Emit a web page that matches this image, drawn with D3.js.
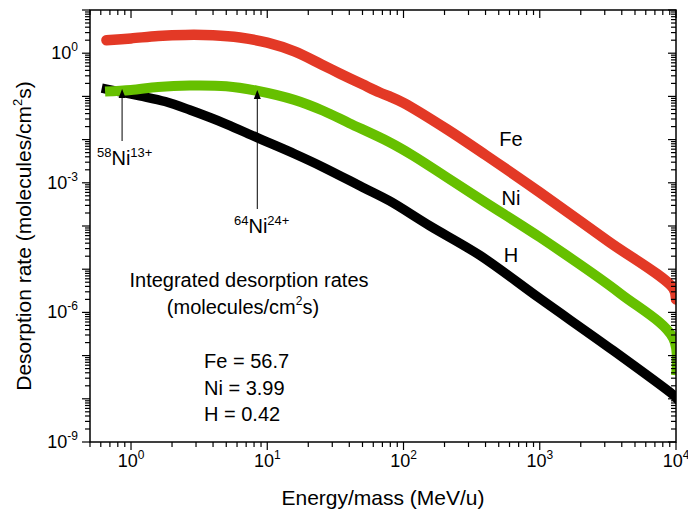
<!DOCTYPE html>
<style>
body { margin: 0; background: #fff; }
svg { font-family: "Liberation Sans", Arial, sans-serif; }
</style>
<svg width="688" height="513"></svg>
<script src="https://cdn.jsdelivr.net/npm/d3@7"></script>
<script>

// values: energy/mass (MeV/u) and desorption rate
var feEnergy = [0.66, 1, 1.58, 2.5, 4, 6.3, 10, 15.8, 25, 34, 50, 67, 79, 100, 207, 400, 1000, 3160, 9550, 10000];
var feRate   = [2.0, 2.2, 2.5, 2.65, 2.6, 2.3, 1.75, 1.1, 0.55, 0.34, 0.19, 0.123, 0.1, 0.071, 0.0176, 4.4e-3, 6.0e-4, 4.5e-5, 3.6e-6, 2.0e-6];

var niEnergy = [0.645, 1, 1.58, 2.7, 5, 8.4, 15.8, 25.7, 40, 79, 117, 200, 400, 1000, 3890, 9550, 10000];
var niRate   = [0.130, 0.141, 0.166, 0.179, 0.172, 0.135, 0.083, 0.0465, 0.024, 8.7e-3, 4.3e-3, 1.45e-3, 3.5e-4, 5.5e-5, 2.75e-6, 2.5e-7, 3.5e-8];

var hEnergy = [0.66, 1.16, 1.78, 2.71, 5, 8.36, 15.8, 25.7, 50, 79, 155, 363, 1000, 3470, 9550, 10000];
var hRate   = [0.148, 0.103, 0.076, 0.0483, 0.0229, 0.0112, 4.7e-3, 2.3e-3, 7.9e-4, 3.8e-4, 1.02e-4, 2.1e-5, 2.1e-6, 1.3e-7, 1.23e-8, 1.07e-8];

var xLabelExp = [0, 1, 2, 3, 4];
var yLabelExp = [0, -3, -6, -9];

var svg = d3.select("svg"),
    pLeft = 90, pRight = 676, pTop = 10, pBottom = 442;

var x = d3.scaleLog().domain([0.5, 1e4]).range([pLeft, pRight]),
    y = d3.scaleLog().domain([1e-9, 10]).range([pBottom, pTop]);

function zip(es, rs) { return es.map(function(e, i) { return [e, rs[i]]; }); }

svg.append("clipPath").attr("id", "plot")
  .append("rect").attr("x", pLeft).attr("y", pTop)
  .attr("width", pRight - pLeft).attr("height", pBottom - pTop);

var line = d3.line()
    .x(function(d) { return x(d[0]); })
    .y(function(d) { return y(d[1]); })
    .curve(d3.curveCatmullRom.alpha(0.5));

var series = [
  {data: zip(hEnergy, hRate), color: "#000000", width: 9.5, cap: "square"},
  {data: zip(niEnergy, niRate), color: "#66c000", width: 10, cap: "butt"},
  {data: zip(feEnergy, feRate), color: "#e33926", width: 10.5, cap: "round"}
];

svg.append("g").attr("clip-path", "url(#plot)")
  .selectAll("path").data(series).enter().append("path")
    .attr("d", function(d) { return line(d.data); })
    .attr("fill", "none")
    .attr("stroke", function(d) { return d.color; })
    .attr("stroke-width", function(d) { return d.width; })
    .attr("stroke-linecap", function(d) { return d.cap; })
    .attr("stroke-linejoin", "round");

// log ticks, 1..9 per decade
function logTicks(scale) {
  var dom = scale.domain(), out = [];
  for (var p = Math.floor(Math.log10(dom[0])); p <= Math.ceil(Math.log10(dom[1])); p++) {
    for (var k = 1; k < 10; k++) {
      var v = k * Math.pow(10, p);
      if (v >= dom[0] * 0.999 && v <= dom[1] * 1.001) out.push({v: v, major: k == 1});
    }
  }
  return out;
}

var ticks = svg.append("g").attr("stroke", "#000").attr("stroke-width", 1.2);
logTicks(x).forEach(function(t) {
  var len = t.major ? 8 : 5, px = x(t.v);
  ticks.append("line").attr("x1", px).attr("x2", px).attr("y1", pBottom).attr("y2", pBottom + len);
  ticks.append("line").attr("x1", px).attr("x2", px).attr("y1", pTop).attr("y2", pTop + len);
});
logTicks(y).forEach(function(t) {
  var len = t.major ? 8 : 5, py = y(t.v);
  ticks.append("line").attr("x1", pLeft).attr("x2", pLeft - len).attr("y1", py).attr("y2", py);
  ticks.append("line").attr("x1", pRight).attr("x2", pRight - len).attr("y1", py).attr("y2", py);
});

svg.append("rect").attr("x", pLeft).attr("y", pTop)
  .attr("width", pRight - pLeft).attr("height", pBottom - pTop)
  .attr("fill", "none").attr("stroke", "#000").attr("stroke-width", 1.5);

function power(sel, exp) {
  sel.append("tspan").text("10");
  sel.append("tspan").attr("font-size", 12).attr("dy", -8).text(exp);
}

svg.append("g").selectAll("text").data(xLabelExp).enter().append("text")
  .attr("x", function(d) { return x(Math.pow(10, d)); })
  .attr("y", 467).attr("font-size", 18).attr("text-anchor", "middle")
  .each(function(d) { power(d3.select(this), d); });

svg.append("g").selectAll("text").data(yLabelExp).enter().append("text")
  .attr("x", 78)
  .attr("y", function(d) { return y(Math.pow(10, d)) + 6; })
  .attr("font-size", 18).attr("text-anchor", "end")
  .each(function(d) { power(d3.select(this), d); });

// axis titles
svg.append("text").attr("x", 383).attr("y", 505).attr("font-size", 21)
  .attr("text-anchor", "middle").text("Energy/mass (MeV/u)");

var yt = svg.append("text").attr("transform", "translate(31,236) rotate(-90)")
  .attr("font-size", 21).attr("text-anchor", "middle");
yt.append("tspan").text("Desorption rate (molecules/cm");
yt.append("tspan").attr("font-size", 13).attr("dy", -9).text("2");
yt.append("tspan").attr("dy", 9).text("s)");

// series names
[["Fe", 146], ["Ni", 205], ["H", 262]].forEach(function(s) {
  svg.append("text").attr("x", 511).attr("y", s[1]).attr("font-size", 20)
    .attr("text-anchor", "middle").text(s[0]);
});

// integrated rates box
svg.append("text").attr("x", 249).attr("y", 287).attr("font-size", 20)
  .attr("text-anchor", "middle").text("Integrated desorption rates");
var u = svg.append("text").attr("x", 243).attr("y", 314).attr("font-size", 20)
  .attr("text-anchor", "middle");
u.append("tspan").text("(molecules/cm");
u.append("tspan").attr("font-size", 12).attr("dy", -9).text("2");
u.append("tspan").attr("dy", 9).text("s)");

[["Fe = 56.7", 368], ["Ni = 3.99", 395], ["H = 0.42", 421]].forEach(function(s) {
  svg.append("text").attr("x", 204).attr("y", s[1]).attr("font-size", 20).text(s[0]);
});

// ion annotations with arrows
var ions = [
  {e: 0.86, tip: 89, tail: 141, mass: "58", charge: "13+", tx: 97, ty: 165},
  {e: 8.45, tip: 90, tail: 209, mass: "64", charge: "24+", tx: 234, ty: 233}
];
ions.forEach(function(a) {
  var px = x(a.e);
  svg.append("line").attr("x1", px).attr("x2", px).attr("y1", a.tail).attr("y2", a.tip + 6)
    .attr("stroke", "#000").attr("stroke-width", 1);
  svg.append("path").attr("d", "M" + px + "," + a.tip + "l-3.5,9h7z").attr("fill", "#000");
  var t = svg.append("text").attr("x", a.tx).attr("y", a.ty).attr("font-size", 20);
  t.append("tspan").attr("font-size", 13).attr("dy", -8).text(a.mass);
  t.append("tspan").attr("dy", 8).text("Ni");
  t.append("tspan").attr("font-size", 13).attr("dy", -8).text(a.charge);
});

</script>
